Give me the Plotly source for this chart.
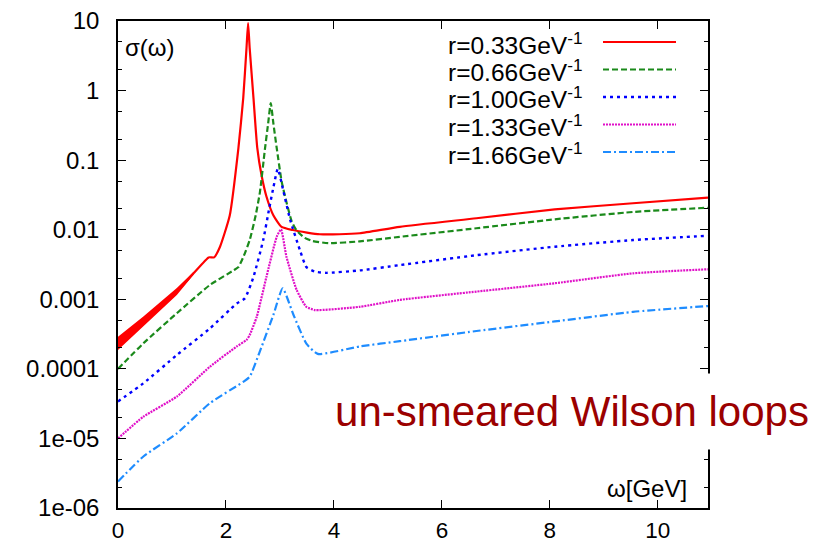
import plotly.graph_objects as go

# ---------------- data ----------------
series_names = ["r=0.33GeV<sup>-1</sup>", "r=0.66GeV<sup>-1</sup>", "r=1.00GeV<sup>-1</sup>",
                "r=1.33GeV<sup>-1</sup>", "r=1.66GeV<sup>-1</sup>"]

omega_r = [0, 0.47, 1.09, 1.40, 1.68, 1.78, 1.89, 2.07, 2.23, 2.32, 2.38, 2.41, 2.44, 2.51, 2.58,
           2.66, 2.75, 2.88, 3.03, 3.24, 3.5, 3.74, 4.1, 4.48, 5.22, 6.64, 8.09, 9.54, 10.93]
sigma_r = [2.3e-4, 4.8e-4, 1.29e-3, 2.36e-3, 4.0e-3, 4.0e-3, 5.7e-3, 0.016, 0.148, 0.78, 4.0, 9.3, 4.0,
           0.78, 0.15, 0.06, 0.03, 0.016, 0.011, 0.0099, 0.0091, 0.0086, 0.0086, 0.0089, 0.011, 0.0146,
           0.0196, 0.024, 0.029]

# noisy band of the r=0.33 curve at small omega
band_omega = [0, 0.47, 1.09, 1.40]
band_lo = [1.86e-4, 4.07e-4, 1.15e-3, 2.25e-3]
band_hi = [2.9e-4, 5.66e-4, 1.45e-3, 2.48e-3]

omega_g = [0, 0.47, 1.09, 1.70, 2.14, 2.23, 2.33, 2.44, 2.55, 2.63, 2.72, 2.78, 2.83, 2.88, 2.94,
           3.03, 3.12, 3.22, 3.31, 3.45, 3.6, 3.9, 4.48, 5.22, 6.64, 8.09, 9.54, 10.93]
sigma_g = [1.0e-4, 2.33e-4, 6.3e-4, 1.6e-3, 2.6e-3, 2.9e-3, 4.2e-3, 7.1e-3, 0.016, 0.035, 0.14, 0.33,
           0.66, 0.33, 0.15, 0.05, 0.025, 0.013, 0.0097, 0.0077, 0.0069, 0.0064, 0.0068, 0.0079, 0.0105,
           0.0141, 0.018, 0.0207]

omega_b = [0, 0.47, 1.09, 1.70, 2.20, 2.35, 2.51, 2.69, 2.80, 2.88, 2.96, 3.06, 3.19, 3.37, 3.49,
           3.65, 3.86, 4.48, 5.22, 6.64, 8.09, 9.54, 10.93]
sigma_b = [3.4e-5, 6.2e-5, 1.58e-4, 3.8e-4, 8.7e-4, 1.03e-3, 2.1e-3, 7.1e-3, 0.02, 0.041, 0.075, 0.037,
           0.0138, 0.0051, 0.0029, 0.0025, 0.0024, 0.0026, 0.0031, 0.0043, 0.0057, 0.0071, 0.0082]

omega_m = [0, 0.47, 1.09, 1.70, 2.20, 2.38, 2.44, 2.57, 2.75, 2.94, 3.02, 3.12, 3.31, 3.49, 3.65,
           4.48, 5.22, 6.64, 8.09, 9.54, 10.93]
sigma_m = [1.0e-5, 2.05e-5, 4.0e-5, 1.07e-4, 2.1e-4, 2.6e-4, 3.07e-4, 5.6e-4, 2.1e-3, 7.9e-3, 0.0101,
           4.1e-3, 1.36e-3, 7.8e-4, 7.0e-4, 7.8e-4, 9.8e-4, 1.29e-3, 1.7e-3, 2.36e-3, 2.7e-3]

omega_c = [0, 0.47, 1.09, 1.70, 2.32, 2.44, 2.63, 2.88, 3.05, 3.25, 3.49, 3.70, 4.48, 5.22, 6.64,
           8.09, 9.54, 10.93]
sigma_c = [2.4e-6, 5.5e-6, 1.18e-5, 3.2e-5, 6.5e-5, 7.7e-5, 1.8e-4, 6.0e-4, 1.44e-3, 6.0e-4, 2.3e-4,
           1.64e-4, 2.1e-4, 2.5e-4, 3.5e-4, 4.8e-4, 6.6e-4, 8.0e-4]

y_tick_vals = [1e-6, 1e-5, 1e-4, 1e-3, 1e-2, 1e-1, 1, 10]
y_tick_text = ["1e-06", "1e-05", "0.0001", "0.001", "0.01", "0.1", "1", "10"]
x_tick_vals = [0, 2, 4, 6, 8, 10]

# ---------------- styles ----------------
colors = ["#ff0000", "#1b8a1b", "#0000ff", "#e010c8", "#1e8cff"]
dashes = ["solid", "6px,3px", "3px,4px", "2px,1px", "8px,3px,2px,3px"]
widths = [2.2, 2.2, 2.4, 2.2, 2.2]

FONT = "Liberation Sans, Arial, Helvetica, sans-serif"

fig = go.Figure()

fig.add_trace(go.Scatter(x=band_omega, y=band_lo, mode="lines", line=dict(width=0, color=colors[0]),
                         showlegend=False, hoverinfo="skip"))
fig.add_trace(go.Scatter(x=band_omega, y=band_hi, mode="lines", line=dict(width=0, color=colors[0]),
                         fill="tonexty", fillcolor=colors[0], showlegend=False, hoverinfo="skip"))

data = [(omega_r, sigma_r), (omega_g, sigma_g), (omega_b, sigma_b), (omega_m, sigma_m), (omega_c, sigma_c)]
for (xs, ys), name, c, d, w in zip(data, series_names, colors, dashes, widths):
    fig.add_trace(go.Scatter(x=xs, y=ys, mode="lines", name=name, showlegend=False,
                             line=dict(color=c, dash=d, width=w, shape="spline", smoothing=0.5)))

# manual gnuplot-style legend: text on the left, line sample on the right
L, R, T, B = 118, 708, 21, 508
def px(xp):
    return (xp - L) / (R - L)
def py(yp):
    return (B - yp) / (B - T)

row_y = [42, 69.5, 97, 124.5, 152]
for name, c, d, w, yy in zip(series_names, colors, dashes, widths, row_y):
    fig.add_annotation(x=px(584), y=py(yy + 1), xref="paper", yref="paper", text=name,
                       showarrow=False, xanchor="right", yanchor="middle",
                       font=dict(family=FONT, size=24.5, color="black"))
    fig.add_shape(type="line", xref="paper", yref="paper", x0=px(603), x1=px(676), y0=py(yy), y1=py(yy),
                  line=dict(color=c, dash=d, width=w))

fig.add_annotation(x=px(123), y=py(47), xref="paper", yref="paper", text="σ(ω)", showarrow=False,
                   xanchor="left", yanchor="middle", font=dict(family=FONT, size=24, color="black"))
fig.add_annotation(x=px(689), y=py(488), xref="paper", yref="paper", text="ω[GeV]", showarrow=False,
                   xanchor="right", yanchor="middle", font=dict(family=FONT, size=24, color="black"))

fig.add_annotation(x=px(572), y=py(411.5), xref="paper", yref="paper", text="un-smeared Wilson loops",
                   showarrow=False, xanchor="center", yanchor="middle", bgcolor="white",
                   height=73, width=490, valign="middle",
                   font=dict(family=FONT, size=42, color="#9b0000"))

fig.update_layout(
    width=829, height=545,
    margin=dict(l=L, r=829 - R, t=T, b=545 - B, autoexpand=False),
    paper_bgcolor="white", plot_bgcolor="white",
    font=dict(family=FONT, size=24, color="black"),
    showlegend=False,
)
fig.update_xaxes(range=[0, 10.93], tickvals=x_tick_vals, ticks="inside", ticklen=8, tickwidth=1.3,
                 tickcolor="black", showline=True, linecolor="black", linewidth=1.5, mirror="allticks",
                 showgrid=False, zeroline=False, ticklabelstandoff=1, automargin=False,
                 tickfont=dict(family=FONT, size=22.5, color="black"))
minor_vals = [m * 10 ** k for k in range(-6, 1) for m in (2, 5)]
fig.update_yaxes(type="log", range=[-6, 1], tickvals=y_tick_vals, ticktext=y_tick_text, ticks="inside",
                 ticklen=8, tickwidth=1.3, tickcolor="black", showline=True, linecolor="black",
                 linewidth=1.5, mirror="allticks", showgrid=False, zeroline=False, ticklabelstandoff=12,
                 automargin=False,
                 minor=dict(ticks="inside", ticklen=4, tickwidth=1.3, tickcolor="black",
                            tickvals=minor_vals, showgrid=False))

fig.write_html("out.html")
